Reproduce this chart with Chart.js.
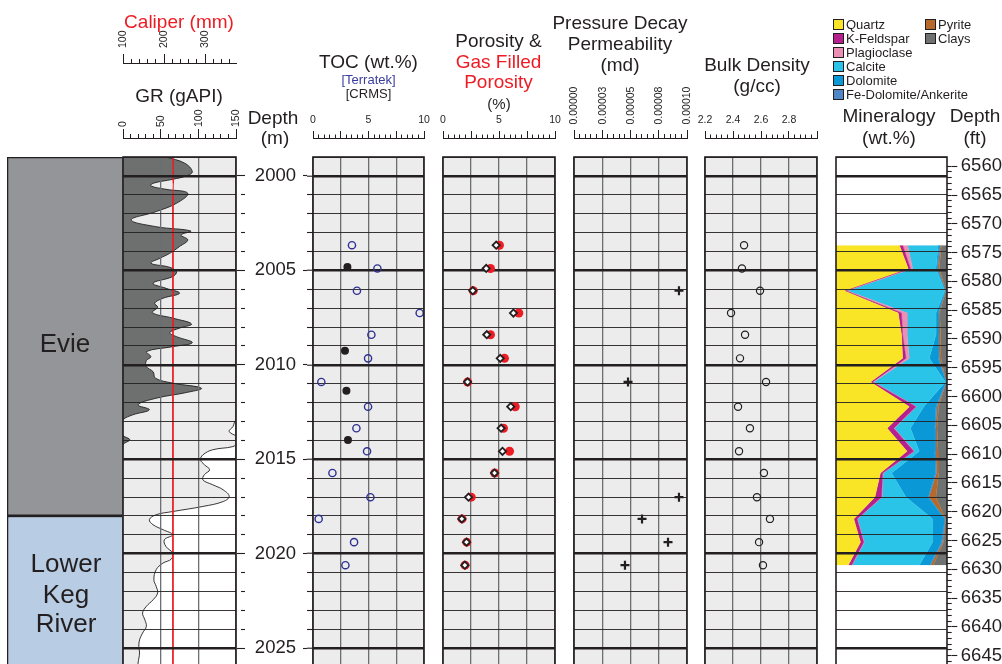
<!DOCTYPE html>
<html>
<head>
<meta charset="utf-8">
<title>Evie / Lower Keg River well log</title>
<script src="https://cdn.jsdelivr.net/npm/chart.js@4.4.1/dist/chart.umd.min.js"></script>
<style>
  body { margin: 0; width: 1002px; height: 664px; overflow: hidden; position: relative; background: #fff;
         font-family: "Liberation Sans", Arial, Helvetica, sans-serif; color: #231f20; }
  canvas { position: absolute; }
  .t { position: absolute; transform: translate(-50%, -50%); white-space: nowrap; line-height: 1; }
  .key { position: absolute; width: 9px; height: 9px; border: 1px solid #231f20; }
  .keytxt { position: absolute; font-size: 13px; line-height: 1; white-space: nowrap; }
</style>
</head>
<body>
<script>
'use strict'

//------------------Depth window----------------------//
var depthMin = 1999;
var depthMax = 2026;
var depthLabels = ['2000', '2005', '2010', '2015', '2020', '2025'];
var ftPerM = 3.28084;
var ftLabels = ['6560', '6565', '6570', '6575', '6580', '6585', '6590', '6595', '6600',
  '6605', '6610', '6615', '6620', '6625', '6630', '6635', '6640', '6645'];

//------------------Formations----------------------//
var formations = ['Evie', 'Lower Keg River'];
var formationTops = [1999, 2018];
var formationBases = [2018, 2026];
var formationColors = ['#939598', '#b8cde4'];

//------------------GR (gAPI) and caliper (mm)----------------------//
var grDepth = [1999.0, 1999.33, 1999.78, 2000.0, 2000.18, 2000.39, 2000.53, 2000.71, 2000.92, 2001.45,
  2001.89, 2002.33, 2002.69, 2002.92, 2003.13, 2003.39, 2003.74, 2004.1, 2004.36, 2004.62,
  2004.84, 2005.07, 2005.33, 2005.68, 2005.95, 2006.21, 2006.48, 2006.74, 2006.95, 2007.24,
  2007.53, 2007.84, 2008.06, 2008.3, 2008.51, 2008.83, 2009.04, 2009.3, 2009.57, 2009.78,
  2010.1, 2010.37, 2010.71, 2010.97, 2011.24, 2011.47, 2011.77, 2012.12, 2012.38, 2012.65,
  2012.91, 2013.27, 2013.53, 2013.8, 2013.97, 2014.15, 2014.33, 2014.5, 2014.77, 2015.03,
  2015.29, 2015.56, 2015.82, 2016.09, 2016.35, 2016.62, 2016.97, 2017.24, 2017.5, 2017.77,
  2017.94, 2018.2, 2018.47, 2018.73, 2019.0, 2019.26, 2019.62, 2019.97, 2020.29, 2020.5,
  2020.85, 2021.38, 2021.73, 2022.08, 2022.44, 2022.79, 2023.14, 2023.5, 2023.85, 2024.2,
  2024.56, 2024.91, 2025.26, 2025.79, 2026.0];
var grValue = [207, 232, 242, 234, 216, 190, 187, 207, 236, 221,
  194, 161, 194, 240, 227, 236, 225, 212, 199, 187,
  212, 221, 216, 190, 207, 225, 203, 192, 196, 189,
  216, 241, 225, 212, 221, 242, 216, 181, 187, 181,
  181, 190, 193, 216, 254, 234, 194, 170, 185, 163,
  150, 146, 141, 152, 159, 152, 146, 119, 106, 103,
  108, 115, 108, 106, 119, 133, 141, 133, 106, 66,
  44, 35, 40, 53, 66, 55, 57, 66, 64, 53,
  44, 41, 44, 46, 40, 31, 26, 29, 31, 26,
  22, 21, 22, 20, 20];
var calDepth = [1999.0, 2000.0, 2000.4, 2001.0, 2005.0, 2010.0, 2015.0, 2020.0, 2026.0];
var calValue = [222, 222, 223, 221.5, 221.5, 221.5, 221.5, 221.5, 221.5];

//------------------Core samples----------------------//
var sampleDepth = [2003.67, 2004.9, 2006.08, 2007.26, 2008.41, 2009.66, 2010.91, 2012.22,
  2013.36, 2014.58, 2015.73, 2017.01, 2018.16, 2019.39, 2020.61];
var tocTerratek = [3.51, 5.80, 3.96, 9.61, 5.26, 4.96, 0.75, 4.96, 3.91, 4.87, 1.75, 5.17, 0.51, 3.70, 2.92];
var crmsDepth = [2004.83, 2009.26, 2011.37, 2013.98];
var tocCrms = [3.10, 2.88, 3.01, 3.15];
var porosity = [4.75, 3.86, 2.66, 6.29, 3.91, 5.11, 2.19, 6.05, 5.19, 5.31, 4.60, 2.28, 1.68, 2.10, 1.95];
var gasPorosity = [5.04, 4.24, 2.70, 6.77, 4.24, 5.49, 2.20, 6.45, 5.40, 5.94, 4.62, 2.52, 1.70, 2.12, 1.97];
var permDepth = [2006.08, 2010.91, 2017.01, 2018.16, 2019.39, 2020.61];
var permValue = [0.0000929, 0.0000478, 0.0000929, 0.0000602, 0.0000832, 0.0000451];
var bulkDensity = [2.479, 2.464, 2.593, 2.386, 2.486, 2.450, 2.636, 2.436, 2.521, 2.443, 2.621, 2.571, 2.664, 2.586, 2.614];

//------------------Mineralogy (wt.%)----------------------//
var minerals = ['Quartz', 'K-Feldspar', 'Plagioclase', 'Calcite', 'Dolomite', 'Fe-Dolomite/Ankerite', 'Pyrite', 'Clays'];
var mineralColors = ['#f9e526', '#b5208e', '#eb8fb5', '#29c4e8', '#0a98d6', '#4f86c6', '#b56a2b', '#6e7271'];
var quartz = [57, 65, 7, 56, 59, 60, 31, 66, 46, 64, 40, 35, 16, 22, 11];
var kFeldspar = [3, 2, 2, 3, 1, 3, 2, 6, 6, 6, 2, 6, 3, 3, 3];
var plagioclase = [4.5, 2, 1, 5, 4, 3, 1, 0.5, 0.5, 0.5, 0.5, 0.5, 0.5, 0.5, 0.5];
var calcite = [27.5, 21, 88, 26, 26, 18, 64.5, 6.5, 14.5, 4.5, 7.5, 21.5, 67.5, 61.5, 60.5];
var dolomite = [1, 1, 0.5, 2, 2, 8, 0.5, 11, 22, 14, 39.5, 20, 11, 8, 9.5];
var feDolomite = [1, 0.6, 0, 0.5, 0.5, 1, 0, 1, 0.5, 1, 1, 0.5, 0.3, 1, 0.5];
var pyrite = [1, 1.4, 0.5, 0.9, 1.8, 1.6, 0.2, 1.5, 1.5, 2, 2, 6.5, 0.3, 1, 2.5];
var clays = [5, 7, 1, 6.6, 5.7, 5.4, 0.8, 7.5, 9, 8, 7.5, 10, 1.4, 3, 12.5];
var mineralWt = [quartz, kFeldspar, plagioclase, calcite, dolomite, feDolomite, pyrite, clays];

//------------------Ruler tick labels----------------------//
var caliperTicks = ['100', '200', '300'];
var grTicks = ['0', '50', '100', '150'];
var tocTicks = ['0', '', '5', '', '10'];
var porTicks = ['0', '', '5', '', '10'];
var permTicks = ['0.00000', '0.00003', '0.00005', '0.00008', '0.00010'];
var densTicks = ['2.2', '2.4', '2.6', '2.8', ''];

//------------------Defaults----------------------//
var ink = '#231f20';
var clear = 'rgba(0,0,0,0)';
Chart.defaults.font.family = '"Liberation Sans", Arial, Helvetica, sans-serif';
Chart.defaults.color = ink;
Chart.defaults.animation = false;

//------------------Helpers----------------------//
function addCanvas(left, top, width, height) {
  var c = document.createElement('canvas');
  c.width = width;
  c.height = height;
  c.style.left = left + 'px';
  c.style.top = top + 'px';
  c.style.width = width + 'px';
  c.style.height = height + 'px';
  document.body.appendChild(c);
  return c;
}

// forces an axis box to a fixed size so the chart areas line up across canvases
function fixSize(size) {
  return function (scale) {
    if (scale.isHorizontal()) scale.height = size; else scale.width = size;
    scale.paddingTop = 0; scale.paddingBottom = 0;
    scale.paddingLeft = 0; scale.paddingRight = 0;
  };
}

function addText(txt, cx, cy, size, color) {
  var d = document.createElement('div');
  d.className = 't';
  d.textContent = txt;
  d.style.left = cx + 'px';
  d.style.top = cy + 'px';
  d.style.fontSize = size + 'px';
  if (color) d.style.color = color;
  document.body.appendChild(d);
}

function pts(xs, ys) {
  return ys.map(function (y, i) { return {x: xs[i], y: y}; });
}

// background + black frame round each track
var trackFrame = {
  id: 'trackFrame',
  beforeDraw: function (chart, args, opts) {
    var a = chart.chartArea, ctx = chart.ctx;
    if (opts.fill) {
      ctx.save();
      ctx.fillStyle = opts.fill;
      ctx.fillRect(a.left, a.top, a.right - a.left, a.bottom - a.top);
      ctx.restore();
    }
  },
  afterDraw: function (chart, args, opts) {
    var a = chart.chartArea, ctx = chart.ctx;
    ctx.save();
    ctx.strokeStyle = opts.frame || ink;
    ctx.lineWidth = 1.6;
    ctx.strokeRect(a.left, a.top, a.right - a.left, a.bottom - a.top);
    ctx.restore();
  }
};

function depthScale(gridZ, tickLen) {
  return {
    type: 'linear', reverse: true, min: depthMin, max: depthMax, position: 'left', weight: 0,
    ticks: {display: false, stepSize: 1, includeBounds: false},
    border: {display: false},
    grid: {
      z: gridZ,
      drawTicks: !!tickLen, tickLength: tickLen || 0, tickWidth: 1.1,
      tickColor: function (c) { return c.tick.value < 2000 ? clear : ink; },
      color: ink,
      lineWidth: function (c) { return c.tick.value % 5 === 0 ? 2.4 : 0.9; }
    },
    afterFit: fixSize(tickLen || 0)
  };
}

function valueScale(min, max, step, gridZ) {
  return {
    type: 'linear', position: 'top', min: min, max: max,
    ticks: {display: false, stepSize: step},
    border: {display: false},
    grid: {z: gridZ, drawTicks: false, color: '#6d6e71', lineWidth: 1.3},
    afterFit: fixSize(0)
  };
}

// side axis that only carries tick marks (and optionally labels); depth axes run downward
function sideAxis(pos, weight, min, max, step, len, size, labels) {
  return {
    type: 'linear', reverse: true, min: min, max: max, position: pos, weight: weight,
    ticks: labels ? {
      stepSize: step, includeBounds: false, padding: pos === 'left' ? 7 : 3.5, autoSkip: false,
      font: {size: 18.5}, color: ink,
      callback: function (v, i, ticks) { return labels[ticks.length - 1 - i]; }
    } : {display: false, stepSize: step, includeBounds: false},
    border: {display: false},
    grid: {
      drawOnChartArea: false, tickLength: len, tickWidth: 1.1,
      tickColor: function (c) { return (c.tick.value < min + 0.9) ? clear : ink; }
    },
    afterFit: fixSize(size)
  };
}

function makeTrack(o) {
  var pad = 2;
  var la = o.leftAxes || 0, ra = o.rightAxes || 0;
  var canvas = addCanvas(o.left - pad - la, 155, o.width + 2 * pad + la + ra, 514);
  return new Chart(canvas, {
    type: o.type || 'scatter',
    data: {datasets: o.datasets},
    options: {
      responsive: false, animation: false, events: [],
      indexAxis: o.indexAxis || 'x',
      layout: {padding: pad, autoPadding: false},
      scales: o.scales,
      plugins: {legend: {display: false}, tooltip: {enabled: false}, trackFrame: {fill: o.fill, frame: o.frame}}
    },
    plugins: [trackFrame]
  });
}

// header ruler: baseline with ticks pointing up and labels above
function makeRuler(o) {
  var side = 24, up = 80;
  var canvas = addCanvas(o.left - side, o.baseline - up, o.right - o.left + 2 * side, up + 2);
  return new Chart(canvas, {
    type: 'scatter',
    data: {datasets: []},
    options: {
      responsive: false, animation: false, events: [],
      layout: {padding: {left: side, right: side, top: 0, bottom: 1}, autoPadding: false},
      scales: {
        y: {display: false, min: 0, max: 1},
        x: {
          type: 'linear', position: 'top', weight: 0, min: o.min, max: o.max,
          ticks: {display: false, stepSize: o.minor, includeBounds: false},
          grid: {drawOnChartArea: false, tickLength: o.minorLen, tickColor: ink, tickWidth: 1},
          border: {display: true, color: ink, width: 1},
          afterFit: fixSize(o.minorLen)
        },
        x2: {
          type: 'linear', position: 'top', weight: 1, min: o.min, max: o.max,
          ticks: {
            stepSize: o.major, includeBounds: false, autoSkip: false, padding: o.pad,
            minRotation: o.rotate ? 90 : 0, maxRotation: o.rotate ? 90 : 0,
            labelOffset: o.rotate ? 13 : 0,
            font: {size: 10.5}, color: ink,
            callback: function (v, i) { return o.labels[i]; }
          },
          grid: {drawOnChartArea: false, tickLength: o.majorLen - o.minorLen, tickColor: ink, tickWidth: 1},
          border: {display: false},
          afterFit: fixSize(up - o.minorLen)
        }
      },
      plugins: {legend: {display: false}, tooltip: {enabled: false}}
    }
  });
}

//------------------Formation column----------------------//
(function () {
  var canvas = addCanvas(5, 155, 122, 514);
  new Chart(canvas, {
    type: 'bar',
    data: {
      labels: [''],
      datasets: formations.map(function (f, i) {
        return {
          label: f, data: [[formationTops[i], formationBases[i]]],
          backgroundColor: formationColors[i], borderColor: ink, borderWidth: 1.6, borderSkipped: false,
          barPercentage: 1, categoryPercentage: 1
        };
      })
    },
    options: {
      responsive: false, animation: false, events: [],
      layout: {padding: 2, autoPadding: false},
      scales: {
        x: {display: false, stacked: true},
        y: {display: false, reverse: true, min: depthMin, max: depthMax}
      },
      plugins: {legend: {display: false}, tooltip: {enabled: false}}
    }
  });
})();

//------------------GR track----------------------//
makeTrack({
  left: 123, width: 113, type: 'line', indexAxis: 'y', fill: '#ffffff',
  datasets: [
    {label: 'Caliper', data: pts(calValue, calDepth), xAxisID: 'xc', borderColor: '#ed1c24', borderWidth: 1,
      pointRadius: 0, tension: 0, order: 0},
    {label: 'GR backup', data: pts(grValue, grDepth), xAxisID: 'xb', borderColor: ink, borderWidth: 0.9,
      backgroundColor: '#6d706f', fill: {value: 150}, pointRadius: 0, tension: 0.4, capBezierPoints: false, order: 1},
    {label: 'GR', data: pts(grValue, grDepth), xAxisID: 'x', borderColor: ink, borderWidth: 0.9,
      backgroundColor: '#ececec', fill: {value: 0}, pointRadius: 0, tension: 0.4, capBezierPoints: false, order: 2}
  ],
  scales: {
    x: valueScale(0, 150, 50, 1),
    xb: {type: 'linear', display: false, min: 150, max: 300},
    xc: {type: 'linear', display: false, min: 100, max: 375},
    y: depthScale(1, 0)
  }
});

//------------------TOC track (with depth ruler in m)----------------------//
makeTrack({
  left: 313, width: 111, leftAxes: 76, fill: '#ececec',
  datasets: [
    {label: 'CRMS', data: pts(tocCrms, crmsDepth), pointRadius: 4, pointBackgroundColor: ink, pointBorderColor: ink, pointBorderWidth: 0},
    {label: 'Terratek', data: pts(tocTerratek, sampleDepth), pointRadius: 3.6, pointBackgroundColor: clear,
      pointBorderColor: '#2e3192', pointBorderWidth: 1.4}
  ],
  scales: {
    x: valueScale(0, 10, 2.5, -1),
    y: depthScale(-1, 6),
    yLab: sideAxis('left', 1, depthMin, depthMax, 5, 4, 62, depthLabels),
    yOutB: sideAxis('left', 2, depthMin, depthMax, 1, 4, 4, null),
    yOutA: sideAxis('left', 3, depthMin, depthMax, 5, 4, 4, null)
  }
});

//------------------Porosity track----------------------//
makeTrack({
  left: 443, width: 112, fill: '#ececec',
  datasets: [
    {label: 'Porosity', data: pts(porosity, sampleDepth), pointStyle: 'rectRot', pointRadius: 3.6,
      pointBackgroundColor: '#ffffff', pointBorderColor: ink, pointBorderWidth: 1.8, order: 0},
    {label: 'Gas Filled Porosity', data: pts(gasPorosity, sampleDepth), pointRadius: 4.5,
      pointBackgroundColor: '#ed1c24', pointBorderColor: '#ed1c24', pointBorderWidth: 0, order: 1}
  ],
  scales: {
    x: valueScale(0, 10, 2.5, -1),
    y: depthScale(-1, 0)
  }
});

//------------------Permeability track----------------------//
makeTrack({
  left: 574, width: 113, fill: '#ececec',
  datasets: [
    {label: 'Pressure Decay Permeability', data: pts(permValue, permDepth), pointStyle: 'cross', pointRadius: 4.5,
      pointBorderColor: ink, pointBorderWidth: 2.2}
  ],
  scales: {
    x: valueScale(0, 0.0001, 0.000025, -1),
    y: depthScale(-1, 0)
  }
});

//------------------Bulk density track----------------------//
makeTrack({
  left: 705, width: 112, fill: '#ececec',
  datasets: [
    {label: 'Bulk Density', data: pts(bulkDensity, sampleDepth), pointRadius: 3.6, pointBackgroundColor: clear,
      pointBorderColor: ink, pointBorderWidth: 1.2}
  ],
  scales: {
    x: valueScale(2.2, 3.0, 0.2, -1),
    y: depthScale(-1, 0)
  }
});

//------------------Mineralogy track (with depth ruler in ft)----------------------//
makeTrack({
  left: 836, width: 111, rightAxes: 55, type: 'line', indexAxis: 'y', fill: '#ffffff',
  datasets: minerals.map(function (m, k) {
    return {
      label: m, data: pts(mineralWt[k], sampleDepth), backgroundColor: mineralColors[k],
      borderColor: mineralColors[k], borderWidth: 0.5, pointRadius: 0, tension: 0,
      fill: k === 0 ? {value: 0} : '-1'
    };
  }),
  scales: {
    x: {type: 'linear', display: false, min: 0, max: 100, stacked: true},
    y: depthScale(1, 0),
    yFt: sideAxis('right', 0, depthMin * ftPerM, depthMax * ftPerM, 1, 4.7, 5, null),
    yFtLab: sideAxis('right', 1, depthMin * ftPerM, depthMax * ftPerM, 5, 5.3, 50, ftLabels)
  }
});

//------------------Header rulers----------------------//
makeRuler({left: 123, right: 236, baseline: 63, min: 100, max: 375, minor: 20, major: 100,
  labels: caliperTicks, rotate: true, minorLen: 4, majorLen: 9, pad: 6});
makeRuler({left: 123, right: 236, baseline: 137.5, min: 0, max: 150, minor: 10, major: 50,
  labels: grTicks, rotate: true, minorLen: 4, majorLen: 9, pad: 2});
makeRuler({left: 313, right: 424, baseline: 137.5, min: 0, max: 10, minor: 0.5, major: 2.5,
  labels: tocTicks, rotate: false, minorLen: 3.5, majorLen: 7, pad: 5});
makeRuler({left: 443, right: 555, baseline: 137.5, min: 0, max: 10, minor: 0.5, major: 2.5,
  labels: porTicks, rotate: false, minorLen: 3.5, majorLen: 7, pad: 5});
makeRuler({left: 574, right: 687, baseline: 137.5, min: 0, max: 0.0001, minor: 0.000005, major: 0.000025,
  labels: permTicks, rotate: true, minorLen: 4, majorLen: 8, pad: 5.5});
makeRuler({left: 705, right: 817, baseline: 137.5, min: 2.2, max: 3.0, minor: 0.04, major: 0.2,
  labels: densTicks, rotate: false, minorLen: 3.5, majorLen: 7, pad: 5});

//------------------Header text----------------------//
addText('Caliper (mm)', 179, 21, 19, '#ed1c24');
addText('GR (gAPI)', 179, 95, 19);
addText('Depth', 273, 117, 19);
addText('(m)', 275, 137, 19);
addText('TOC (wt.%)', 368.5, 61, 19);
addText('[Terratek]', 368.5, 79, 13, '#3b3d9e');
addText('[CRMS]', 368.5, 92.5, 13);
addText('Porosity &', 498.5, 40, 19);
addText('Gas Filled', 498.5, 61, 19, '#ed1c24');
addText('Porosity', 498.5, 81, 19, '#ed1c24');
addText('(%)', 499, 102.5, 15);
addText('Pressure Decay', 620, 22, 19);
addText('Permeability', 620, 43, 19);
addText('(md)', 620, 64, 19);
addText('Bulk Density', 757, 64, 19);
addText('(g/cc)', 757, 85, 19);
addText('Mineralogy', 889, 115, 19);
addText('(wt.%)', 889, 137, 19);
addText('Depth', 975, 115, 19);
addText('(ft)', 975, 137, 19);

// formation names
addText('Evie', 65, 343, 26);
addText('Lower', 66, 563, 26);
addText('Keg', 66, 594, 26);
addText('River', 66, 623, 26);

//------------------Mineral legend----------------------//
minerals.forEach(function (m, i) {
  var col = i < 6 ? 0 : 1;
  var row = i < 6 ? i : i - 6;
  var x = col ? 925 : 833;
  var y = 19 + row * 14;
  var box = document.createElement('div');
  box.className = 'key';
  box.style.left = x + 'px';
  box.style.top = y + 'px';
  box.style.background = mineralColors[i];
  document.body.appendChild(box);
  var t = document.createElement('div');
  t.className = 'keytxt';
  t.textContent = m;
  t.style.left = (x + 13) + 'px';
  t.style.top = (y - 1) + 'px';
  document.body.appendChild(t);
});
</script>
</body>
</html>
